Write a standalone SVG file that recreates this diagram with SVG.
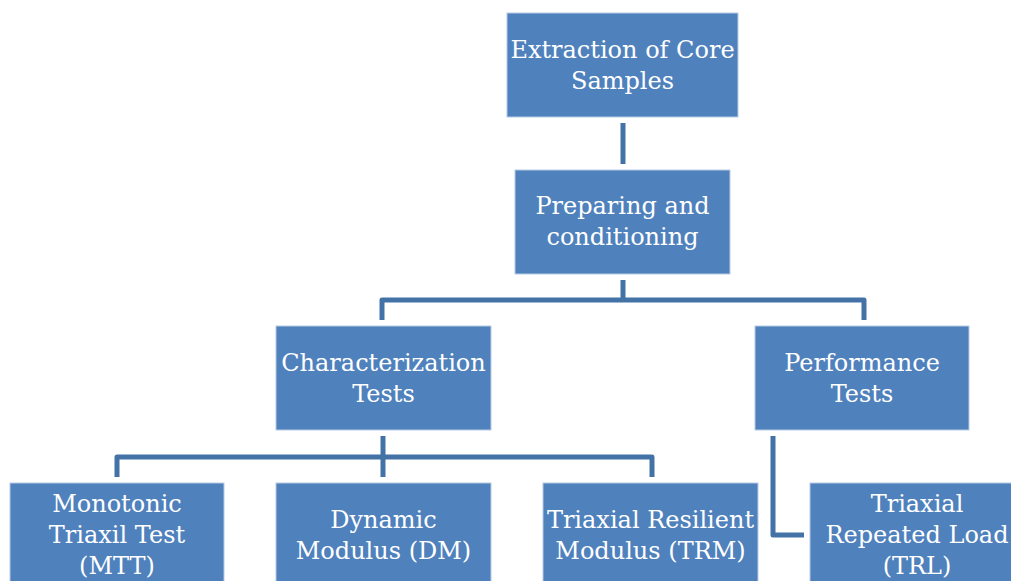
<svg xmlns="http://www.w3.org/2000/svg" width="1011" height="581" viewBox="0 0 1011 581">
  <style>
    .box { fill: #4F81BD; stroke: #B8CCE4; stroke-width: 1; }
    .lbl { fill: #FFFFFF; font-family: "DejaVu Serif", "Liberation Serif", serif; font-size: 24px; text-anchor: middle; }
    .wire { fill: none; stroke: #4372A6; stroke-width: 5; stroke-linejoin: round; }
  </style>
  <rect width="1011" height="581" fill="#FFFFFF"/>

  <g id="connectors">
    <line class="wire" x1="623" y1="123" x2="623" y2="164"/>
    <line class="wire" x1="623" y1="280" x2="623" y2="300"/>
    <path class="wire" d="M382,320 V300 H864 V320"/>
    <line class="wire" x1="383" y1="436" x2="383" y2="477"/>
    <path class="wire" d="M117,477 V457 H652 V477"/>
    <path class="wire" d="M773,436 V535 H804"/>
  </g>

  <g id="extraction">
    <rect class="box" x="507" y="13" width="231" height="104"/>
    <text class="lbl" x="622.5" y="58">Extraction of Core</text>
    <text class="lbl" x="622.5" y="89">Samples</text>
  </g>
  <g id="preparing">
    <rect class="box" x="515" y="170" width="215" height="104"/>
    <text class="lbl" x="622.5" y="214">Preparing and</text>
    <text class="lbl" x="622.5" y="245">conditioning</text>
  </g>
  <g id="characterization">
    <rect class="box" x="276" y="326" width="215" height="104"/>
    <text class="lbl" x="383.5" y="371">Characterization</text>
    <text class="lbl" x="383.5" y="402">Tests</text>
  </g>
  <g id="performance">
    <rect class="box" x="755" y="326" width="214" height="104"/>
    <text class="lbl" x="862" y="371">Performance</text>
    <text class="lbl" x="862" y="402">Tests</text>
  </g>
  <g id="mtt">
    <rect class="box" x="10" y="483" width="214" height="104"/>
    <text class="lbl" x="117" y="512">Monotonic</text>
    <text class="lbl" x="117" y="543">Triaxil Test</text>
    <text class="lbl" x="117" y="574">(MTT)</text>
  </g>
  <g id="dm">
    <rect class="box" x="276" y="483" width="215" height="104"/>
    <text class="lbl" x="383.5" y="528">Dynamic</text>
    <text class="lbl" x="383.5" y="559">Modulus (DM)</text>
  </g>
  <g id="trm">
    <rect class="box" x="543" y="483" width="215" height="104"/>
    <text class="lbl" x="650.5" y="528">Triaxial Resilient</text>
    <text class="lbl" x="650.5" y="559">Modulus (TRM)</text>
  </g>
  <g id="trl">
    <rect class="box" x="810" y="483" width="215" height="104"/>
    <text class="lbl" x="917" y="512">Triaxial</text>
    <text class="lbl" x="917" y="543">Repeated Load</text>
    <text class="lbl" x="917" y="574">(TRL)</text>
  </g>
</svg>
